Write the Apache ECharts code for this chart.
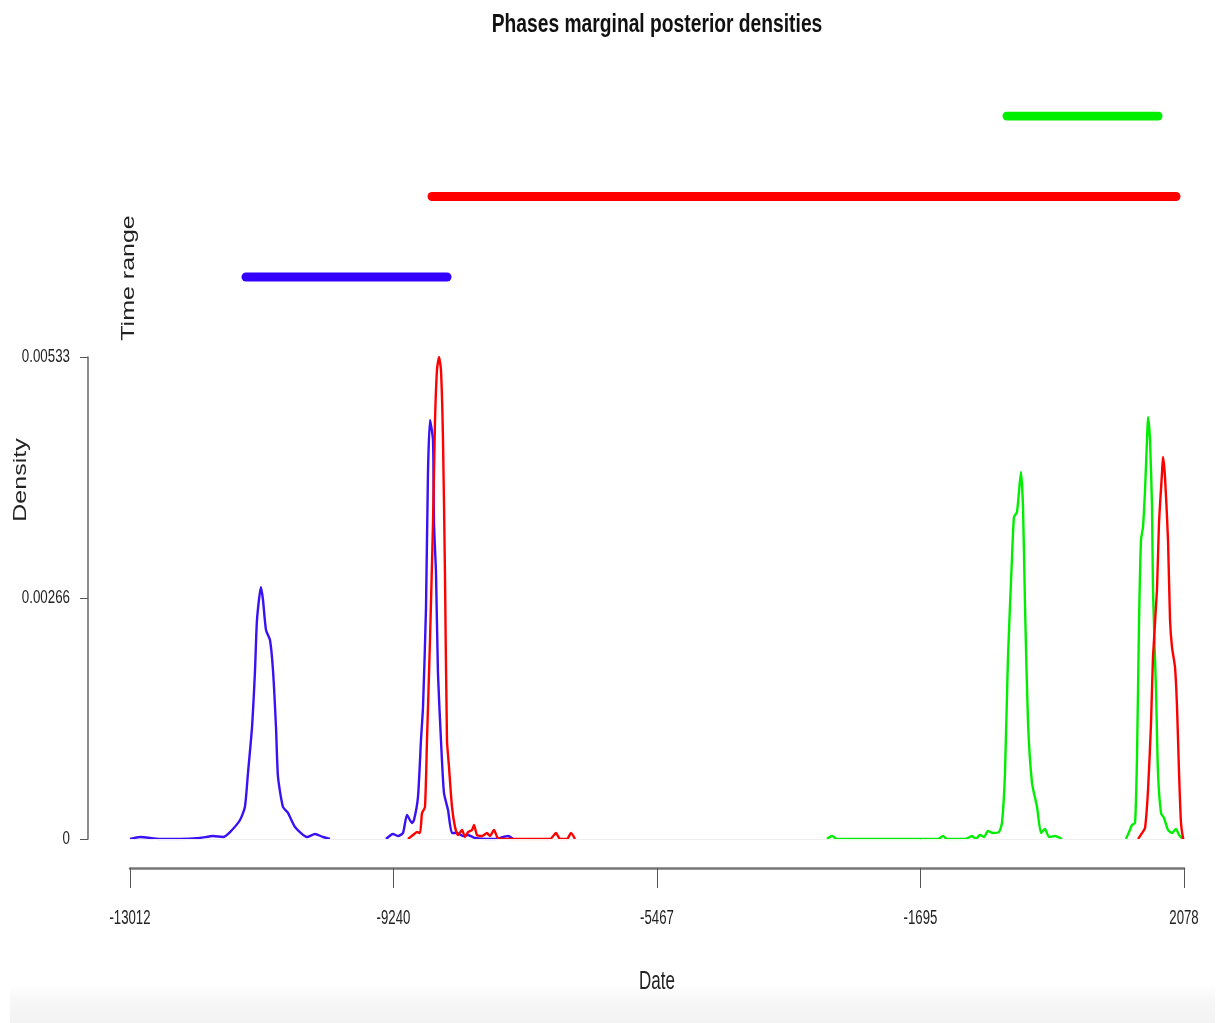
<!DOCTYPE html>
<html><head><meta charset="utf-8">
<script src="https://cdn.jsdelivr.net/npm/echarts@6/dist/echarts.min.js"></script>
<style>html,body{margin:0;padding:0;background:#fff}#c{width:1225px;height:1023px}</style>
</head><body><div id="c"></div>
<script>
// Axis tick values
const xTicks = [-13012, -9240, -5467, -1695, 2078];
const yTicks = [0, 0.00266, 0.00533];

// Phase 1 (blue) densities
const blueBegin = [[-13012,0],[-12869,0.000022],[-12582,0],[-12296,0],[-12010,0.000011],[-11824,0.000033],[-11681,0.000022],[-11580,0.000077],[-11437,0.00021],[-11367,0.000354],[-11323,0.00073],[-11265,0.001238],[-11222,0.001869],[-11194,0.002422],[-11137,0.002787],[-11108,0.002643],[-11065,0.002311],[-11008,0.0022],[-10965,0.001869],[-10922,0.001238],[-10893,0.000686],[-10822,0.000354],[-10750,0.000288],[-10650,0.000133],[-10478,0.000022],[-10363,0.000055],[-10249,0.000022],[-10149,0]];
const blueEnd = [[-9347,0],[-9247,0.000055],[-9175,0.000033],[-9104,0.000066],[-9046,0.000265],[-8975,0.000177],[-8946,0.00021],[-8889,0.000464],[-8846,0.001095],[-8817,0.00146],[-8774,0.002565],[-8746,0.004047],[-8717,0.004633],[-8674,0.004412],[-8660,0.003494],[-8631,0.002941],[-8603,0.001836],[-8560,0.001095],[-8517,0.000509],[-8459,0.000321],[-8402,0.000066],[-8330,0.000066],[-8244,0.000033],[-8173,0.000044],[-8073,0.000011],[-7901,0],[-7786,0],[-7600,0.000033],[-7529,0]];

// Phase 2 (red) densities
const redBegin = [[-9032,0],[-8960,0.000044],[-8903,0.000077],[-8860,0.000066],[-8831,0.000287],[-8789,0.000354],[-8760,0.001095],[-8717,0.002201],[-8674,0.003494],[-8646,0.0046],[-8617,0.005186],[-8588,0.00533],[-8560,0.005186],[-8531,0.004423],[-8503,0.002952],[-8474,0.001095],[-8445,0.000796],[-8402,0.000354],[-8359,0.000133],[-8316,0.000044],[-8259,0.0001],[-8216,0.000022],[-8173,0.000077],[-8116,0.0001],[-8087,0.000155],[-8044,0.000044],[-7972,0.000033],[-7901,0.000066],[-7858,0.000033],[-7801,0.0001],[-7743,0.000011],[-7529,0],[-7285,0],[-6999,0],[-6913,0.000066],[-6856,0],[-6755,0],[-6698,0.000066],[-6641,0]];
const redEnd = [[1420,0],[1477,0.000066],[1520,0.000122],[1563,0.000542],[1606,0.001283],[1634,0.002013],[1691,0.002754],[1720,0.003494],[1763,0.004047],[1777,0.004224],[1806,0.004003],[1849,0.003306],[1878,0.002422],[1906,0.002123],[1949,0.001902],[1978,0.00146],[2007,0.00073],[2035,0.000177],[2064,0.000011],[2078,0]];

// Phase 3 (green) densities
const greenBegin = [[-3033,0],[-2961,0.000033],[-2890,0],[-2704,0],[-2374,0],[-2031,0],[-1702,0],[-1444,0],[-1372,0.000033],[-1315,0],[-1057,0],[-957,0.000033],[-900,0],[-843,0.000044],[-785,0.000022],[-728,0.000088],[-656,0.000066],[-571,0.000077],[-528,0.000177],[-485,0.00073],[-442,0.002013],[-384,0.003118],[-356,0.003561],[-313,0.003616],[-256,0.004058],[-227,0.003671],[-198,0.002565],[-155,0.001282],[-98,0.000619],[-26,0.000354],[31,0.000066],[88,0.000111],[145,0.000022],[231,0.000033],[331,0]];
const greenEnd = [[1248,0],[1291,0.000077],[1334,0.000155],[1377,0.000177],[1405,0.000907],[1434,0.002388],[1462,0.003306],[1491,0.00345],[1520,0.003859],[1548,0.004412],[1563,0.004666],[1591,0.004412],[1620,0.003671],[1634,0.002752],[1677,0.001647],[1706,0.00073],[1749,0.000287],[1792,0.000232],[1849,0.0001],[1906,0.000066],[1964,0.000111],[2007,0.000044],[2064,0]];

// Time ranges [start, end] per phase
const blueRange = [-11351, -8473];
const redRange = [-8688, 1964];
const greenRange = [-456, 1706];

const BLUE = '#3a10f5', RED = '#ff0000', GREEN = '#00ee00';
const SANS = '"Liberation Sans", Arial, sans-serif';

const chart = echarts.init(document.getElementById('c'), null, {renderer: 'canvas'});

function curve(data, color, extra) {
  return Object.assign({
    type: 'line', xAxisIndex: 0, yAxisIndex: 0, data: data,
    symbol: 'none', smooth: 0.2, silent: true,
    lineStyle: {color: color, width: 2.4},
    z: 3
  }, extra || {});
}
function rangeBar(range, row, color) {
  return {
    type: 'line', xAxisIndex: 1, yAxisIndex: 1,
    data: [[range[0], row], [range[1], row]],
    symbol: 'none', silent: true,
    lineStyle: {color: color, width: 9, cap: 'round'}
  };
}

chart.setOption({
  animation: false,
  backgroundColor: '#ffffff',
  grid: [
    {left: 130, right: 41, top: 357, height: 482},
    {left: 130, right: 41, top: 116, height: 241.5}
  ],
  xAxis: [
    {
      type: 'value', gridIndex: 0, min: -13012, max: 2078, offset: 29,
      axisLine: {show: true, onZero: false, lineStyle: {color: '#777', width: 2.5}},
      axisTick: {show: true, length: 20, customValues: xTicks, lineStyle: {color: '#555', width: 1}},
      axisLabel: {show: false},
      splitLine: {show: false}
    },
    {type: 'value', gridIndex: 1, min: -13012, max: 2078, show: false}
  ],
  yAxis: [
    {
      type: 'value', gridIndex: 0, min: 0, max: 0.00533, offset: 42,
      axisLine: {show: true, onZero: false, lineStyle: {color: '#666', width: 1.5}},
      axisTick: {show: true, length: 8, customValues: yTicks, lineStyle: {color: '#555'}},
      axisLabel: {show: false},
      splitLine: {show: false}
    },
    {type: 'value', gridIndex: 1, min: 0, max: 3, show: false}
  ],
  series: [
    curve(blueBegin, BLUE, {
      markLine: {silent: true, symbol: 'none', label: {show: false},
        lineStyle: {color: '#eeeeee', width: 1, type: 'solid'}, data: [{yAxis: 0}]}
    }),
    curve(blueEnd, BLUE),
    curve(greenBegin, GREEN),
    curve(greenEnd, GREEN),
    curve(redBegin, RED),
    curve(redEnd, RED),
    rangeBar(blueRange, 1, '#3300ff'),
    rangeBar(redRange, 2, RED),
    rangeBar(greenRange, 3, GREEN)
  ]
});

// Tick labels placed through the library's own axis scales
const tickLabels = [];
xTicks.forEach(function (v) {
  tickLabels.push({
    type: 'text', x: chart.convertToPixel({xAxisIndex: 0}, v), y: 918, scaleX: 0.66, silent: true,
    style: {text: String(v), font: '20px ' + SANS, fill: '#222', textAlign: 'center', textVerticalAlign: 'middle'}
  });
});
yTicks.forEach(function (v) {
  tickLabels.push({
    type: 'text', x: 70, y: chart.convertToPixel({yAxisIndex: 0}, v), scaleX: 0.74, silent: true,
    style: {text: String(v), font: '18px ' + SANS, fill: '#222', textAlign: 'right', textVerticalAlign: 'middle'}
  });
});

chart.setOption({
  graphic: [
    {
      type: 'rect', silent: true, z: -10,
      shape: {x: 10, y: 985, width: 1205, height: 38},
      style: {fill: new echarts.graphic.LinearGradient(0, 0, 0, 1, [
        {offset: 0, color: '#ffffff'}, {offset: 0.4, color: '#f7f7f7'}, {offset: 1, color: '#f3f3f3'}])}
    },
    {
      type: 'text', x: 657, y: 25, scaleX: 0.77, silent: true,
      style: {text: 'Phases marginal posterior densities', font: 'bold 25px ' + SANS,
        fill: '#111', textAlign: 'center', textVerticalAlign: 'middle'}
    },
    {
      type: 'text', x: 657, y: 982, scaleX: 0.68, silent: true,
      style: {text: 'Date', font: '25px ' + SANS,
        fill: '#222', textAlign: 'center', textVerticalAlign: 'middle'}
    },
    {
      type: 'text', x: 21, y: 480, rotation: Math.PI / 2, scaleY: 0.7, silent: true,
      style: {text: 'Density', font: '25px ' + SANS,
        fill: '#222', textAlign: 'center', textVerticalAlign: 'middle'}
    },
    {
      type: 'text', x: 129, y: 278, rotation: Math.PI / 2, scaleY: 0.7, silent: true,
      style: {text: 'Time range', font: '25px ' + SANS,
        fill: '#222', textAlign: 'center', textVerticalAlign: 'middle'}
    }
  ].concat(tickLabels)
});
</script>
</body></html>
